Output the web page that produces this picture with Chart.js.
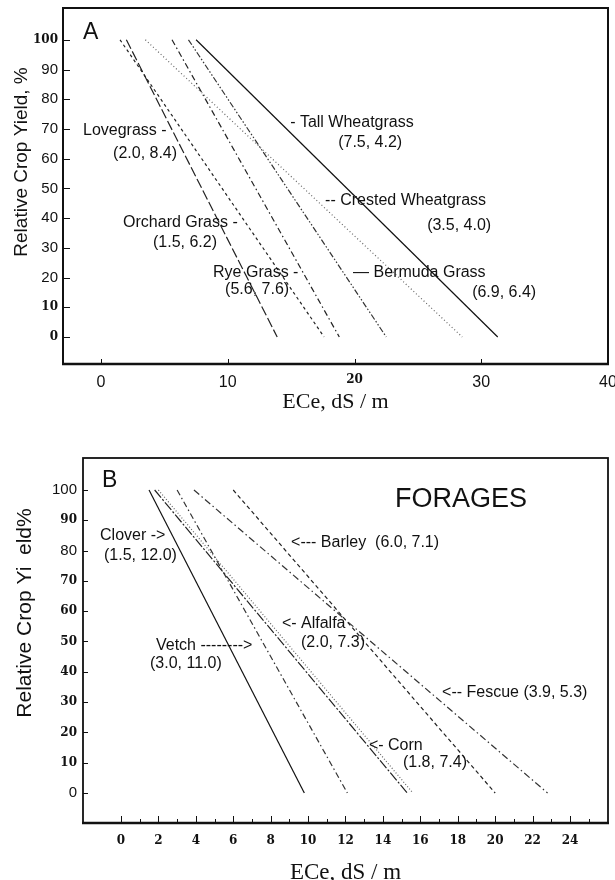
<!DOCTYPE html>
<html>
<head>
<meta charset="utf-8">
<title>Salt tolerance of grasses and forages</title>
<script src="https://cdn.jsdelivr.net/npm/chart.js@4.4.1/dist/chart.umd.min.js"></script>
<style>
  body { margin: 0; background: #fff; }
  #wrap { position: relative; width: 615px; height: 880px; }
  canvas { position: absolute; left: 0; }
  #chartA { top: 0; }
  #chartB { top: 420px; }
</style>
</head>
<body>
<div id="wrap">
  <canvas id="chartA" width="615" height="420"></canvas>
  <canvas id="chartB" width="615" height="460"></canvas>
</div>
<script>
// ---- panel A: grasses ----
const grassNames = ['Lovegrass', 'Orchard Grass', 'Crested Wheatgrass', 'Rye Grass', 'Bermuda Grass', 'Tall Wheatgrass'];
const grassThreshold = [2.0, 1.5, 3.5, 5.6, 6.9, 7.5];   // ECe where yield starts to fall (100 %)
const grassSlope = [8.4, 6.2, 4.0, 7.6, 6.4, 4.2];       // % loss per dS/m
const grassZero = [13.9, 17.6, 28.5, 18.8, 22.5, 31.3];  // ECe read at 0 % yield
const grassXTicks = [0, 10, 20, 30, 40];
const grassYTicks = [0, 10, 20, 30, 40, 50, 60, 70, 80, 90, 100];

// ---- panel B: forages ----
const forageNames = ['Clover', 'Vetch', 'Alfalfa', 'Corn', 'Fescue', 'Barley'];
const forageThreshold = [1.5, 3.0, 2.0, 1.8, 3.9, 6.0];
const forageSlope = [12.0, 11.0, 7.3, 7.4, 5.3, 7.1];
const forageZero = [9.8, 12.1, 15.6, 15.3, 22.8, 20.0];
const forageXTicks = [0, 2, 4, 6, 8, 10, 12, 14, 16, 18, 20, 22, 24];
const forageYTicks = [0, 10, 20, 30, 40, 50, 60, 70, 80, 90, 100];

// line styles
const grassDash = [[10, 3], [3, 3], [1, 2.5], [6, 3, 1.5, 3], [6, 2, 1.5, 2, 1.5, 2], []];
const grassColor = ['#222', '#222', '#666', '#222', '#333', '#111'];
const forageDash = [[], [6, 3, 1.5, 3], [1, 2], [10, 2, 2, 2], [7, 3, 1.5, 3], [4, 3]];
const forageColor = ['#111', '#333', '#666', '#222', '#333', '#222'];

const sansFam = '"Liberation Sans", Arial, sans-serif';
const pair = (t, s, i) => '(' + t[i].toFixed(1) + ', ' + s[i].toFixed(1) + ')';

function tickFont(boldVals, sansSize) {
    return function(ctx) {
        if (ctx.tick && boldVals.includes(ctx.tick.value)) {
            return { family: 'DejaVu Serif', size: 12, weight: 'bold' };
        }
        return { family: sansFam, size: sansSize };
    };
}

function lines(names, thr, zero, dash, color) {
    return names.map((name, i) => ({
        label: name,
        data: [{ x: thr[i], y: 100 }, { x: zero[i], y: 0 }],
        showLine: true,
        borderColor: color[i],
        borderDash: dash[i],
        borderWidth: 1.2,
        pointRadius: 0,
        fill: false
    }));
}

// box, inward ticks, text notes and the rotated y title
function frame(cfg) {
    return {
        id: 'frame',
        afterDraw(chart) {
            const { ctx, chartArea: a, scales: { x, y } } = chart;
            ctx.save();
            ctx.strokeStyle = '#111';
            ctx.lineWidth = cfg.box;
            ctx.strokeRect(a.left, a.top, a.right - a.left, a.bottom - a.top);
            ctx.lineWidth = cfg.bottom;
            ctx.beginPath();
            ctx.moveTo(a.left - 1, a.bottom);
            ctx.lineTo(a.right + 1, a.bottom);
            ctx.stroke();

            ctx.lineWidth = 1;
            ctx.beginPath();
            cfg.yMarks.forEach(v => {
                const py = Math.round(y.getPixelForValue(v)) + 0.5;
                ctx.moveTo(a.left, py);
                ctx.lineTo(a.left + cfg.yLen, py);
            });
            cfg.xMarks.forEach(m => {
                const px = Math.round(x.getPixelForValue(m.v)) + 0.5;
                ctx.moveTo(px, a.bottom);
                ctx.lineTo(px, a.bottom - m.len);
            });
            ctx.stroke();

            ctx.fillStyle = '#111';
            ctx.textAlign = 'left';
            ctx.textBaseline = 'middle';
            cfg.notes.forEach(n => {
                ctx.font = (n.size || 16) + 'px ' + sansFam;
                ctx.fillText(n.text, x.getPixelForValue(n.x), y.getPixelForValue(n.y));
            });

            ctx.translate(cfg.yTitle.x, cfg.yTitle.y);
            ctx.rotate(-Math.PI / 2);
            ctx.textAlign = 'center';
            ctx.font = cfg.yTitle.size + 'px ' + sansFam;
            ctx.fillText(cfg.yTitle.text, 0, 0);
            ctx.restore();
        }
    };
}

function makeChart(id, c) {
    return new Chart(document.getElementById(id), {
        type: 'scatter',
        data: { datasets: c.datasets },
        options: {
            responsive: false,
            animation: false,
            devicePixelRatio: 1,
            layout: { padding: c.padding },
            plugins: { legend: { display: false }, tooltip: { enabled: false } },
            scales: {
                x: {
                    type: 'linear',
                    min: c.xMin, max: c.xMax,
                    grid: { display: false, drawTicks: false },
                    border: { display: false },
                    afterBuildTicks: s => { s.ticks = c.xTicks.map(v => ({ value: v })); },
                    afterFit: s => { s.height = c.xHeight; s.paddingLeft = 0; s.paddingRight = 0; },
                    ticks: {
                        autoSkip: false, maxRotation: 0,
                        padding: c.xPad, color: '#111',
                        font: c.xFont,
                        callback: v => String(v)
                    },
                    title: {
                        display: true, text: 'ECe, dS / m', color: '#111',
                        font: { family: '"Liberation Serif", "Times New Roman", serif', size: c.xTitleSize, lineHeight: c.xTitleLH },
                        padding: { top: 0, bottom: c.xTitlePad }
                    }
                },
                y: {
                    type: 'linear',
                    min: c.yMin, max: c.yMax,
                    grid: { display: false, drawTicks: false },
                    border: { display: false },
                    afterBuildTicks: s => { s.ticks = c.yTicks.map(v => ({ value: v })); },
                    afterFit: s => { s.width = c.yWidth; s.paddingTop = 0; s.paddingBottom = 0; },
                    ticks: {
                        autoSkip: false,
                        padding: c.yPad, color: '#111',
                        font: c.yFont,
                        callback: v => String(v)
                    }
                }
            }
        },
        plugins: [frame(c.frame)]
    });
}

makeChart('chartA', {
    datasets: lines(grassNames, grassThreshold, grassZero, grassDash, grassColor),
    padding: { left: 0, top: 8, right: 7, bottom: 0 },
    xMin: -3, xMax: 40, yMin: -9.1, yMax: 110.7,
    xTicks: grassXTicks, yTicks: grassYTicks,
    xHeight: 56, yWidth: 63, xPad: 9, yPad: 5,
    xFont: tickFont([20], 16), yFont: tickFont([100, 10, 0], 15),
    xTitleSize: 22, xTitleLH: 1.2, xTitlePad: 5,
    frame: {
        box: 2, bottom: 2.5, yLen: 7,
        yMarks: grassYTicks,
        xMarks: grassXTicks.slice(0, 4).map(v => ({ v: v, len: 5 })),
        yTitle: { text: 'Relative Crop Yield, %', x: 22, y: 162, size: 19 },
        notes: [
            { text: 'A', x: -1.42, y: 102.3, size: 23 },
            { text: grassNames[0] + ' -', x: -1.42, y: 69.5 },
            { text: pair(grassThreshold, grassSlope, 0), x: 0.95, y: 61.8 },
            { text: grassNames[1] + ' -', x: 1.74, y: 38.6 },
            { text: pair(grassThreshold, grassSlope, 1), x: 4.1, y: 31.6 },
            { text: grassNames[3] + ' -', x: 8.84, y: 21.8 },
            { text: pair(grassThreshold, grassSlope, 3), x: 9.79, y: 15.8 },
            { text: '- ' + grassNames[5], x: 14.92, y: 72.2 },
            { text: pair(grassThreshold, grassSlope, 5), x: 18.71, y: 65.5 },
            { text: '-- ' + grassNames[2], x: 17.68, y: 46.0 },
            { text: pair(grassThreshold, grassSlope, 2), x: 25.73, y: 37.6 },
            { text: '\u2014 ' + grassNames[4], x: 19.89, y: 21.5 },
            { text: pair(grassThreshold, grassSlope, 4), x: 29.28, y: 14.8 }
        ]
    }
});

const fxMarks = [];
for (let v = 0; v <= 25; v++) fxMarks.push({ v: v, len: v % 2 === 0 ? 7 : 4 });

makeChart('chartB', {
    datasets: lines(forageNames, forageThreshold, forageZero, forageDash, forageColor),
    padding: { left: 0, top: 38, right: 7, bottom: 0 },
    xMin: -2.03, xMax: 26.03, yMin: -9.9, yMax: 110.56,
    xTicks: forageXTicks, yTicks: forageYTicks,
    xHeight: 57, yWidth: 83, xPad: 11, yPad: 6,
    xFont: tickFont(forageXTicks, 12), yFont: tickFont([90, 70, 60, 50, 40, 30, 20, 10], 15),
    xTitleSize: 23, xTitleLH: 0.5, xTitlePad: 1,
    frame: {
        box: 1.8, bottom: 2.5, yLen: 5,
        yMarks: forageYTicks,
        xMarks: fxMarks,
        yTitle: { text: 'Relative Crop Yi  eld%', x: 25, y: 193, size: 21 },
        notes: [
            { text: 'B', x: -1.02, y: 103.0, size: 23 },
            { text: 'FORAGES', x: 14.64, y: 96.7, size: 27 },
            { text: '<--- ' + forageNames[5] + '  ' + pair(forageThreshold, forageSlope, 5), x: 9.09, y: 82.8 },
            { text: forageNames[0] + ' ->', x: -1.12, y: 84.8 },
            { text: pair(forageThreshold, forageSlope, 0), x: -0.91, y: 78.5 },
            { text: '<- ' + forageNames[2], x: 8.6, y: 55.8 },
            { text: pair(forageThreshold, forageSlope, 2), x: 9.62, y: 49.5 },
            { text: forageNames[1] + ' -------->', x: 1.87, y: 48.5 },
            { text: pair(forageThreshold, forageSlope, 1), x: 1.55, y: 42.6 },
            { text: '<-- ' + forageNames[4] + ' ' + pair(forageThreshold, forageSlope, 4), x: 17.16, y: 33.0 },
            { text: '<- ' + forageNames[3], x: 13.25, y: 15.8 },
            { text: pair(forageThreshold, forageSlope, 3), x: 15.07, y: 9.9 }
        ]
    }
});
</script>
</body>
</html>
